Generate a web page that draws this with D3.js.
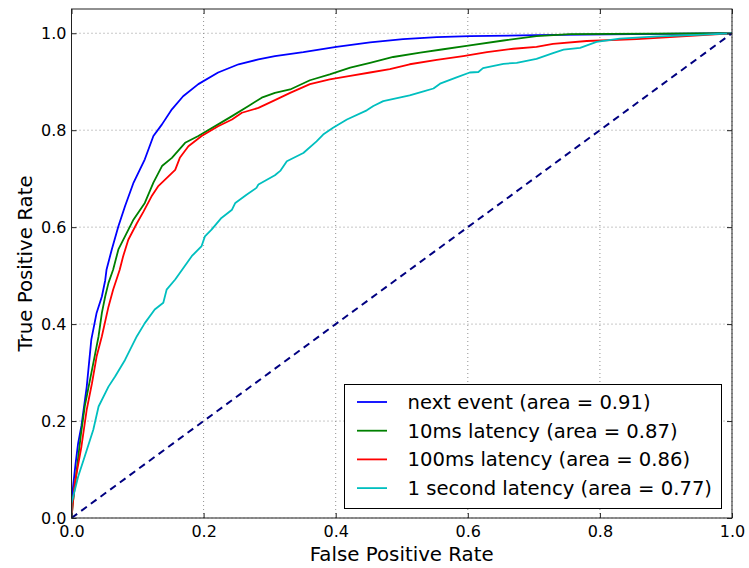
<!DOCTYPE html>
<html><head><meta charset="utf-8">
<script src="https://cdn.jsdelivr.net/npm/d3@7"></script>
<style>body{margin:0;background:#fff}svg{display:block}text{font-family:"DejaVu Sans",sans-serif}</style>
</head><body><svg id="c" width="749" height="568"></svg>
<script>
const seriesNames = ["next event (area = 0.91)","10ms latency (area = 0.87)","100ms latency (area = 0.86)","1 second latency (area = 0.77)"];
const seriesColors = ["#0000ff","#008000","#ff0000","#00bfbf"];
const xTicks = [0,0.2,0.4,0.6,0.8,1.0];
const yTicks = [0,0.2,0.4,0.6,0.8,1.0];

const nextEvent = [[0,0],[0.002,0.06],[0.006,0.11],[0.01,0.154],[0.015,0.19],[0.023,0.27],[0.03,0.368],[0.038,0.423],[0.046,0.457],[0.051,0.49],[0.053,0.512],[0.061,0.554],[0.071,0.602],[0.081,0.643],[0.094,0.692],[0.111,0.74],[0.124,0.788],[0.137,0.812],[0.152,0.843],[0.169,0.870],[0.192,0.895],[0.222,0.919],[0.253,0.936],[0.283,0.946],[0.308,0.953],[0.351,0.961],[0.401,0.972],[0.452,0.981],[0.502,0.988],[0.553,0.992],[0.603,0.994],[0.704,0.996],[0.85,0.998],[1,1]];
const lat10ms = [[0,0],[0.002,0.03],[0.008,0.1],[0.014,0.17],[0.02,0.23],[0.028,0.285],[0.036,0.34],[0.041,0.375],[0.046,0.423],[0.051,0.457],[0.056,0.485],[0.063,0.512],[0.071,0.554],[0.081,0.581],[0.094,0.616],[0.111,0.650],[0.124,0.692],[0.137,0.726],[0.152,0.743],[0.172,0.774],[0.192,0.788],[0.222,0.812],[0.243,0.829],[0.268,0.850],[0.288,0.867],[0.308,0.877],[0.331,0.884],[0.361,0.903],[0.391,0.915],[0.422,0.929],[0.452,0.939],[0.487,0.951],[0.528,0.96],[0.563,0.967],[0.598,0.974],[0.654,0.985],[0.704,0.994],[0.755,0.998],[1,1]];
const lat100ms = [[0,0],[0.002,0.03],[0.005,0.072],[0.015,0.147],[0.023,0.223],[0.031,0.278],[0.038,0.333],[0.046,0.375],[0.056,0.436],[0.063,0.471],[0.073,0.512],[0.078,0.539],[0.086,0.574],[0.099,0.608],[0.109,0.632],[0.121,0.663],[0.131,0.684],[0.157,0.718],[0.164,0.743],[0.177,0.767],[0.197,0.788],[0.222,0.808],[0.243,0.822],[0.258,0.836],[0.283,0.846],[0.308,0.862],[0.331,0.877],[0.361,0.895],[0.391,0.905],[0.422,0.912],[0.452,0.919],[0.482,0.926],[0.512,0.936],[0.553,0.945],[0.593,0.953],[0.629,0.961],[0.669,0.968],[0.704,0.972],[0.729,0.978],[0.780,0.984],[0.856,0.988],[0.931,0.994],[1,1]];
const lat1s = [[0,0],[0,0.03],[0.01,0.085],[0.02,0.127],[0.028,0.161],[0.033,0.182],[0.041,0.23],[0.056,0.271],[0.066,0.292],[0.081,0.326],[0.099,0.375],[0.111,0.402],[0.126,0.43],[0.139,0.444],[0.144,0.471],[0.157,0.492],[0.182,0.54],[0.197,0.561],[0.202,0.581],[0.212,0.595],[0.227,0.619],[0.243,0.636],[0.248,0.65],[0.265,0.667],[0.28,0.681],[0.283,0.688],[0.308,0.707],[0.316,0.716],[0.326,0.736],[0.351,0.753],[0.371,0.777],[0.381,0.791],[0.396,0.805],[0.417,0.822],[0.447,0.841],[0.457,0.85],[0.472,0.86],[0.512,0.872],[0.533,0.88],[0.548,0.886],[0.558,0.896],[0.583,0.909],[0.603,0.919],[0.616,0.92],[0.623,0.928],[0.654,0.937],[0.674,0.939],[0.704,0.947],[0.729,0.959],[0.745,0.966],[0.770,0.970],[0.795,0.982],[0.830,0.989],[0.881,0.993],[0.957,0.997],[1,1]];
const chance = [[0,0],[1,1]];
const allSeries = [nextEvent, lat10ms, lat100ms, lat1s];

const svg = d3.select("#c");
const L=71.5, R=732, T=9, B=518;
const x = d3.scaleLinear().domain([0,1]).range([L,R]);
const y = d3.scaleLinear().domain([0,1.05]).range([B,T]);

// grid
const g = svg.append("g");
xTicks.forEach(t=>{ g.append("line").attr("x1",x(t)).attr("x2",x(t)).attr("y1",T).attr("y2",B).attr("stroke","#909090").attr("stroke-width",1).attr("stroke-dasharray","1,3"); });
yTicks.forEach(t=>{ g.append("line").attr("x1",L).attr("x2",R).attr("y1",y(t)).attr("y2",y(t)).attr("stroke","#909090").attr("stroke-width",1).attr("stroke-dasharray","1,3"); });

svg.append("defs").append("clipPath").attr("id","clip").append("rect").attr("x",L).attr("y",T).attr("width",R-L).attr("height",B-T);
const line = d3.line().x(d=>x(d[0])).y(d=>y(d[1]));
const plot = svg.append("g").attr("clip-path","url(#clip)");
allSeries.forEach((s,i)=>{
  plot.append("path").datum(s).attr("d",line).attr("fill","none").attr("stroke",seriesColors[i]).attr("stroke-width",1.8).attr("stroke-linejoin","round");
});
plot.append("path").datum(chance).attr("d",line).attr("fill","none").attr("stroke","#000080").attr("stroke-width",2).attr("stroke-dasharray","7,5");

// axes with inward ticks
const ax = svg.append("g");
ax.append("g").attr("transform",`translate(0,${B})`).call(d3.axisBottom(x).tickValues(xTicks).tickFormat(d3.format(".1f")).tickSizeInner(-5).tickSizeOuter(0).tickPadding(8));
ax.append("g").attr("transform",`translate(0,${T})`).call(d3.axisTop(x).tickValues(xTicks).tickFormat("").tickSizeInner(-5).tickSizeOuter(0));
ax.append("g").attr("transform",`translate(${L},0)`).call(d3.axisLeft(y).tickValues(yTicks).tickFormat(d3.format(".1f")).tickSizeInner(-5).tickSizeOuter(0).tickPadding(5));
ax.append("g").attr("transform",`translate(${R},0)`).call(d3.axisRight(y).tickValues(yTicks).tickFormat("").tickSizeInner(-5).tickSizeOuter(0));
ax.selectAll(".domain").remove();
ax.selectAll(".tick line").attr("stroke","#222");
ax.selectAll(".tick text").attr("font-size",16).attr("fill","#000").attr("font-family","DejaVu Sans");
svg.append("rect").attr("x",L).attr("y",T).attr("width",R-L).attr("height",B-T).attr("fill","none").attr("stroke","#222").attr("stroke-width",1);

svg.append("text").attr("x",(L+R)/2).attr("y",561).attr("text-anchor","middle").attr("font-size",19.8).text("False Positive Rate");
svg.append("text").attr("transform",`translate(32,${(T+B)/2}) rotate(-90)`).attr("text-anchor","middle").attr("font-size",19.8).text("True Positive Rate");

// legend
const lg = svg.append("g");
lg.append("rect").attr("x",344.5).attr("y",384.5).attr("width",377).attr("height",124).attr("fill","#fff").attr("stroke","#000").attr("stroke-width",1);
seriesNames.forEach((n,i)=>{
  const cy = 402 + i*28.7;
  lg.append("line").attr("x1",357).attr("x2",387).attr("y1",cy).attr("y2",cy).attr("stroke",seriesColors[i]).attr("stroke-width",1.8);
  lg.append("text").attr("x",407.5).attr("y",cy).attr("dy","0.35em").attr("font-size",19.6).text(n);
});
</script></body></html>
